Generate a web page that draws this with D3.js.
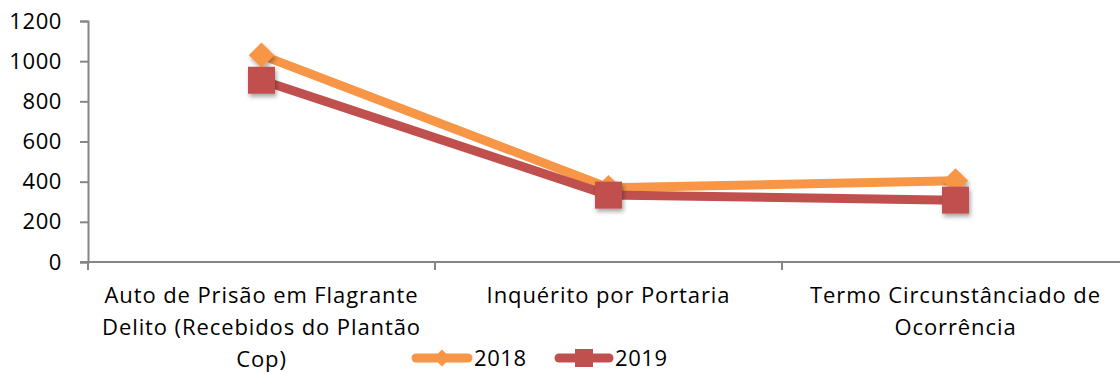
<!DOCTYPE html>
<html>
<head>
<meta charset="utf-8">
<script src="https://cdn.jsdelivr.net/npm/d3@7"></script>
<style>
  html, body { margin: 0; padding: 0; background: #fff; }
  svg { display: block; font-family: "Open Sans", sans-serif; }
</style>
</head>
<body>
<svg id="chart" width="1120" height="374"></svg>
<script>
// Categories (line breaks mark how each label wraps under the axis)
const categories = [
  "Auto de Prisão em Flagrante\nDelito (Recebidos do Plantão\nCop)",
  "Inquérito por Portaria",
  "Termo Circunstânciado de\nOcorrência"
];
const values2018 = [1030, 370, 404];
const values2019 = [905, 333, 308];
const seriesNames = ["2018", "2019"];
const yTicks = [0, 200, 400, 600, 800, 1000, 1200];

const colors = { "2018": "#F79646", "2019": "#C0504D" };

const svg = d3.select("#chart");
const defs = svg.append("defs");
defs.append("filter").attr("id", "shadow")
  .attr("x", "-50%").attr("y", "-50%").attr("width", "200%").attr("height", "200%")
  .append("feDropShadow")
  .attr("dx", 1.5).attr("dy", 3).attr("stdDeviation", 2)
  .attr("flood-color", "#000").attr("flood-opacity", 0.35);

const plotLeft = 88, plotRight = 1129, plotTop = 21, plotBottom = 262;

const x = d3.scaleBand().domain(categories).range([plotLeft, plotRight]).paddingInner(0).paddingOuter(0);
const y = d3.scaleLinear().domain([0, 1200]).range([plotBottom, plotTop]);
const cx = c => x(c) + x.bandwidth() / 2;

const axisColor = "#868686";
const fontSize = 22;

// Y axis
const yAxis = svg.append("g").attr("transform", `translate(${plotLeft},0)`)
  .call(d3.axisLeft(y).tickValues(yTicks).tickSize(8).tickPadding(18).tickFormat(d3.format("d")));
yAxis.select(".domain").attr("stroke", axisColor).attr("stroke-width", 2);
yAxis.selectAll(".tick line").attr("stroke", axisColor).attr("stroke-width", 2);
yAxis.selectAll(".tick text").attr("fill", "#000").attr("font-size", fontSize)
  .attr("letter-spacing", 0.6)
  .attr("font-family", "'Open Sans', sans-serif");

// X axis with boundary ticks between categories
const xAxis = svg.append("g").attr("transform", `translate(0,${plotBottom})`);
xAxis.append("line").attr("x1", plotLeft - 8).attr("x2", plotRight).attr("y1", 0).attr("y2", 0)
  .attr("stroke", axisColor).attr("stroke-width", 2);
const boundaries = categories.map(c => x(c)).concat([plotRight]);
xAxis.selectAll("line.b").data(boundaries).join("line").attr("class", "b")
  .attr("x1", d => d).attr("x2", d => d).attr("y1", 0).attr("y2", 8)
  .attr("stroke", axisColor).attr("stroke-width", 2);

// Category labels
const labels = svg.append("g");
categories.forEach(c => {
  const lines = c.split("\n");
  const t = labels.append("text").attr("text-anchor", "middle")
    .attr("font-size", fontSize).attr("letter-spacing", 0.9).attr("fill", "#000");
  lines.forEach((ln, i) => {
    t.append("tspan").attr("x", cx(c)).attr("y", 303 + i * 32).text(ln);
  });
});

// Diamond = square turned 45 degrees
function markerPath(shape, side) {
  const h = side / 2;
  if (shape === "diamond") {
    const d = side / Math.SQRT2 * 1.0;
    return `M0,${-d}L${d},0L0,${d}L${-d},0Z`;
  }
  return `M${-h},${-h}H${h}V${h}H${-h}Z`;
}

// Series lines and markers
const line = d3.line().x(d => cx(d.c)).y(d => y(d.v));
const series = [
  { name: "2018", values: values2018, shape: "diamond", side: 18 },
  { name: "2019", values: values2019, shape: "square", side: 27 }
];

series.forEach(s => {
  const pts = categories.map((c, i) => ({ c, v: s.values[i] }));
  svg.append("path").datum(pts).attr("d", line)
    .attr("fill", "none").attr("stroke", colors[s.name])
    .attr("stroke-width", 9).attr("stroke-linejoin", "round");
  svg.append("g").selectAll("path").data(pts).join("path")
    .attr("transform", d => `translate(${cx(d.c)},${y(d.v)})`)
    .attr("d", markerPath(s.shape, s.side))
    .attr("fill", colors[s.name])
    .attr("filter", "url(#shadow)");
});

// Legend
const legendItems = [
  { name: "2018", shape: "diamond", side: 12, x0: 412, x1: 472, tx: 474 },
  { name: "2019", shape: "square", side: 18, x0: 555, x1: 613, tx: 615 }
];
const legend = svg.append("g");
legendItems.forEach(it => {
  const ly = 358;
  legend.append("line").attr("x1", it.x0 + 4).attr("x2", it.x1 - 4)
    .attr("y1", ly).attr("y2", ly)
    .attr("stroke", colors[it.name]).attr("stroke-width", 9).attr("stroke-linecap", "round");
  legend.append("path").attr("transform", `translate(${(it.x0 + it.x1) / 2},${ly})`)
    .attr("d", markerPath(it.shape, it.side)).attr("fill", colors[it.name]);
  legend.append("text").attr("x", it.tx).attr("y", 366).attr("font-size", fontSize)
    .attr("letter-spacing", 0.6).attr("fill", "#000").text(it.name);
});
</script>
</body>
</html>
